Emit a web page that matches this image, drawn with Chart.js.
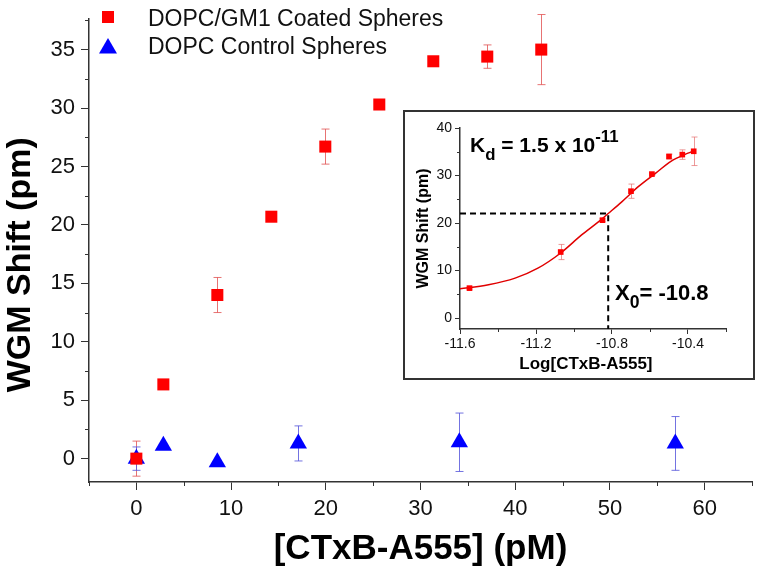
<!DOCTYPE html>
<html>
<head>
<meta charset="utf-8">
<script src="https://cdn.jsdelivr.net/npm/chart.js@4.4.1/dist/chart.umd.min.js"></script>
<style>
  body { margin: 0; background: #fff; }
  #wrap { position: relative; width: 762px; height: 575px; background: #fff; font-family: "Liberation Sans", Arial, sans-serif; }
  #main { position: absolute; left: 0; top: 0; }
  #insetBox { position: absolute; left: 403px; top: 110px; width: 348px; height: 266px; border: 2px solid #333; background: #fff; }
  .txt { position: absolute; white-space: nowrap; color: #000; }
  .leg { font-size: 23px; line-height: 23px; color: #111; }
  .ann { font-weight: bold; }
  .ann sub, .ann sup { font-size: 0.8em; line-height: 0; position: relative; vertical-align: baseline; }
  .ann sub { top: 0.45em; }
  .ann sup { top: -0.6em; }
</style>
</head>
<body>
<div id="wrap">
  <canvas id="main" width="762" height="575"></canvas>

  <div class="txt" style="left:102px;top:11px;width:12px;height:12px;background:#f00"></div>
  <svg class="txt" style="left:99px;top:38px" width="18" height="16"><polygon points="9,0 18,15.5 0,15.5" fill="#0000ff"/></svg>
  <div class="txt leg" style="left:148px;top:7px">DOPC/GM1 Coated Spheres</div>
  <div class="txt leg" style="left:148px;top:35px">DOPC Control Spheres</div>

  <div id="insetBox"><canvas id="inset" width="348" height="266"></canvas></div>

  <div class="txt ann" style="left:470px;top:134px;font-size:21px;line-height:21px">K<sub>d</sub> = 1.5 x 10<sup>-11</sup></div>
  <div class="txt ann" style="left:615px;top:282px;font-size:22px;line-height:22px">X<sub>0</sub>= -10.8</div>
</div>

<script>
// main plot: WGM shift vs CTxB concentration
const coatedConc = [0, 2.85, 8.55, 14.25, 19.95, 25.65, 31.35, 37.05, 42.75];
const coatedShift = [0.0, 6.35, 14.0, 20.7, 26.7, 30.3, 34.0, 34.4, 35.0];
const coatedErr = [1.5, 0.2, 1.5, 0.3, 1.5, 0.2, 0.4, 1.0, 3.0];

const controlConc = [0, 2.85, 8.55, 17.1, 34.1, 56.9];
const controlShift = [0.0, 1.1, -0.3, 1.3, 1.4, 1.3];
const controlErr = [1.0, 0.1, 0.1, 1.5, 2.5, 2.3];

const xTicks = [0, 10, 20, 30, 40, 50, 60];
const xMinor = [-5, 5, 15, 25, 35, 45, 55, 65];
const yTicks = [0, 5, 10, 15, 20, 25, 30, 35];
const yMinor = [2.5, 7.5, 12.5, 17.5, 22.5, 27.5, 32.5, 37.5];

// inset: log concentration with sigmoidal fit
const logConc = [-11.55, -11.07, -10.85, -10.70, -10.59, -10.50, -10.43, -10.37];
const insetShift = [6.3, 13.9, 20.6, 26.7, 30.3, 34.0, 34.4, 35.1];
const insetErr = [0.2, 1.6, 0.3, 1.5, 0.2, 0.5, 1.0, 3.0];

const fitX = [-11.61, -11.45, -11.31, -11.19, -11.07, -10.96, -10.87, -10.82, -10.75, -10.66, -10.57, -10.49, -10.40, -10.37];
const fitY = [6.1, 7.0, 8.4, 10.5, 13.7, 17.5, 20.3, 22.0, 24.4, 27.7, 30.5, 33.0, 34.7, 35.2];

const guideX = [-11.6, -10.82, -10.82];
const guideY = [22, 22, -2.3];

const insetXTicks = [-11.6, -11.2, -10.8, -10.4];
const insetXMinor = [-11.4, -11.0, -10.6, -10.2];
const insetYTicks = [0, 10, 20, 30, 40];
const insetYMinor = [5, 15, 25, 35];

const FONT = '"Liberation Sans", Arial, sans-serif';
const AXIS = '#333';

const pts = (xs, ys) => xs.map((x, i) => ({ x: x, y: ys[i] }));

const minorTicks = {
  id: 'minorTicks',
  afterDraw(chart, args, opts) {
    const ctx = chart.ctx;
    const xs = chart.scales.x, ys = chart.scales.y;
    ctx.save();
    ctx.strokeStyle = AXIS;
    ctx.lineWidth = opts.width;
    ctx.beginPath();
    opts.x.forEach(v => {
      const p = Math.round(xs.getPixelForValue(v)) + 0.5;
      ctx.moveTo(p, xs.top);
      ctx.lineTo(p, xs.top + opts.len);
    });
    opts.y.forEach(v => {
      const p = Math.round(ys.getPixelForValue(v)) + 0.5;
      ctx.moveTo(ys.right, p);
      ctx.lineTo(ys.right - opts.len, p);
    });
    ctx.stroke();
    ctx.restore();
  }
};

const errorBars = {
  id: 'errorBars',
  beforeDatasetsDraw(chart, args, opts) {
    const ctx = chart.ctx;
    const ys = chart.scales.y;
    chart.data.datasets.forEach((ds, i) => {
      if (!ds.errors) return;
      const meta = chart.getDatasetMeta(i);
      ctx.save();
      ctx.strokeStyle = ds.errorColor;
      ctx.lineWidth = 1;
      ctx.beginPath();
      meta.data.forEach((el, j) => {
        const v = ds.data[j].y, e = ds.errors[j];
        const x = Math.round(el.x) + 0.5;
        const t = ys.getPixelForValue(v + e), b = ys.getPixelForValue(v - e);
        ctx.moveTo(x, t); ctx.lineTo(x, b);
        ctx.moveTo(x - opts.cap, t); ctx.lineTo(x + opts.cap, t);
        ctx.moveTo(x - opts.cap, b); ctx.lineTo(x + opts.cap, b);
      });
      ctx.stroke();
      ctx.restore();
    });
  }
};

function axis(min, max, ticks, tickLen, font, pad, title, titleFont, titlePad, fit) {
  return {
    type: 'linear',
    min: min,
    max: max,
    afterBuildTicks: s => { s.ticks = ticks.map(v => ({ value: v })); },
    afterFit: fit,
    grid: { drawOnChartArea: false, drawTicks: true, tickLength: tickLen, color: AXIS, tickWidth: 1 },
    border: { display: true, color: AXIS, width: 1.5 },
    ticks: { color: '#111', font: { family: FONT, size: font }, padding: pad, maxRotation: 0, autoSkip: false },
    title: { display: true, text: title, color: '#000', font: { family: FONT, size: titleFont, weight: 'bold', lineHeight: 1.0 }, padding: titlePad }
  };
}

new Chart(document.getElementById('main'), {
  type: 'scatter',
  data: {
    datasets: [
      {
        label: 'DOPC/GM1 Coated Spheres',
        data: pts(coatedConc, coatedShift),
        errors: coatedErr,
        errorColor: 'rgba(225,80,80,0.8)',
        pointStyle: 'rect',
        pointRadius: 8.5,
        backgroundColor: '#ff0000',
        borderColor: '#ff0000',
        borderWidth: 0,
        clip: false
      },
      {
        label: 'DOPC Control Spheres',
        data: pts(controlConc, controlShift),
        errors: controlErr,
        errorColor: 'rgba(90,90,220,0.85)',
        pointStyle: 'triangle',
        pointRadius: 10,
        backgroundColor: '#0000ff',
        borderColor: '#0000ff',
        borderWidth: 0,
        clip: false
      }
    ]
  },
  options: {
    responsive: false,
    animation: false,
    devicePixelRatio: 1,
    layout: { padding: { top: 14, right: 9, left: 0, bottom: 0 } },
    scales: {
      x: axis(-5, 65, xTicks, 8, 22, 6, '[CTxB-A555] (pM)', 35, { top: 0, bottom: 8 }, s => { s.height = 93; }),
      // trailing spaces nudge the rotated title down to where the reference has it
      y: axis(-2, 37.6, yTicks, 8, 22, 6, 'WGM Shift (pm)   ', 34, { top: 4, bottom: 0 }, s => { s.width = 89; })
    },
    plugins: {
      legend: { display: false },
      tooltip: { enabled: false },
      minorTicks: { x: xMinor, y: yMinor, len: 4, width: 1 },
      errorBars: { cap: 4 }
    }
  },
  plugins: [minorTicks, errorBars]
});

new Chart(document.getElementById('inset'), {
  type: 'scatter',
  data: {
    datasets: [
      {
        data: pts(logConc, insetShift),
        errors: insetErr,
        errorColor: 'rgba(230,110,110,0.7)',
        pointStyle: 'rect',
        pointRadius: 4,
        backgroundColor: '#ff0000',
        borderWidth: 0,
        clip: false
      },
      {
        type: 'line',
        data: pts(fitX, fitY),
        borderColor: '#e00000',
        borderWidth: 1.5,
        pointRadius: 0,
        cubicInterpolationMode: 'monotone',
        fill: false
      },
      {
        type: 'line',
        data: pts(guideX, guideY),
        borderColor: '#000',
        borderWidth: 2,
        borderDash: [6, 4],
        pointRadius: 0,
        tension: 0,
        fill: false
      }
    ]
  },
  options: {
    responsive: false,
    animation: false,
    devicePixelRatio: 1,
    layout: { padding: { top: 16, right: 27, left: 0, bottom: 0 } },
    scales: {
      x: axis(-11.6, -10.2, insetXTicks, 5, 14, 2, 'Log[CTxB-A555]   ', 17, { top: 0, bottom: 5 }, s => { s.height = 49; }),
      y: axis(-2.3, 40, insetYTicks, 5, 14, 3, 'WGM Shift (pm)', 16, { top: 11, bottom: 0 }, s => { s.width = 55; })
    },
    plugins: {
      legend: { display: false },
      tooltip: { enabled: false },
      minorTicks: { x: insetXMinor, y: insetYMinor, len: 3, width: 1 },
      errorBars: { cap: 3 }
    }
  },
  plugins: [minorTicks, errorBars]
});
</script>
</body>
</html>
